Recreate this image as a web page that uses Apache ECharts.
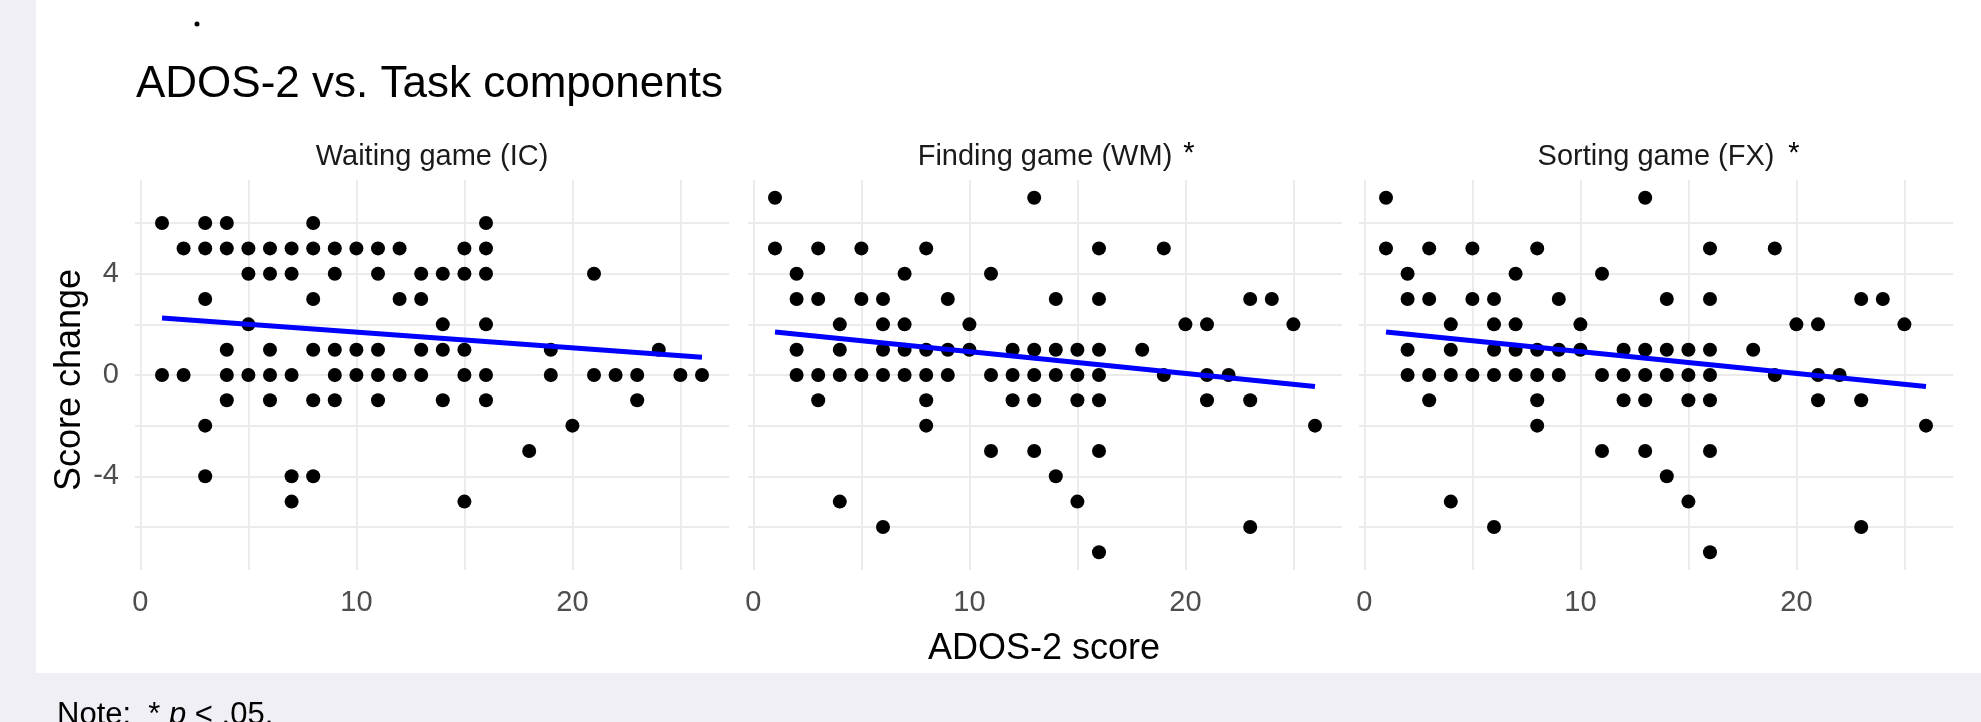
<!DOCTYPE html>
<html>
<head>
<meta charset="utf-8">
<script src="https://cdn.jsdelivr.net/npm/echarts@6/dist/echarts.min.js"></script>
<style>
  html, body { margin: 0; padding: 0; background: #f0eff6; }
  #paper { position: absolute; left: 36px; top: 0; width: 1945px; height: 673px; background: #ffffff; }
  #chart { position: absolute; left: 0; top: 0; width: 1981px; height: 722px; }
</style>
</head>
<body>
<div id="paper"></div>
<div id="chart"></div>
<script>
// ---------- data ----------
const chartTitle = 'ADOS-2 vs. Task components';
const panelTitles = ['Waiting game (IC)', 'Finding game (WM)', 'Sorting game (FX)'];
const panelStars = ['', '*', '*'];
const xAxisTitle = 'ADOS-2 score';
const yAxisTitle = 'Score change';
const xTickLabels = [0, 10, 20];
const xGridValues = [0, 5, 10, 15, 20, 25];
const yTickLabels = [-4, 0, 4];
const yGridValues = [-6, -4, -2, 0, 2, 4, 6];

// [ADOS-2 score, score change]
const waitingIC = [
  [1,6],[3,6],[4,6],[8,6],[16,6],
  [2,5],[3,5],[4,5],[5,5],[6,5],[7,5],[8,5],[9,5],[10,5],[11,5],[12,5],[15,5],[16,5],
  [5,4],[6,4],[7,4],[9,4],[11,4],[13,4],[14,4],[15,4],[16,4],[21,4],
  [3,3],[8,3],[12,3],[13,3],
  [5,2],[14,2],[16,2],
  [4,1],[6,1],[8,1],[9,1],[10,1],[11,1],[13,1],[14,1],[15,1],[19,1],[24,1],
  [1,0],[2,0],[4,0],[5,0],[6,0],[7,0],[9,0],[10,0],[11,0],[12,0],[13,0],[15,0],[16,0],[19,0],[21,0],[22,0],[23,0],[25,0],[26,0],
  [4,-1],[6,-1],[8,-1],[9,-1],[11,-1],[14,-1],[16,-1],[23,-1],
  [3,-2],[20,-2],
  [18,-3],
  [3,-4],[7,-4],[8,-4],
  [7,-5],[15,-5]
];
const findingWM = [
  [1,7],[13,7],
  [1,5],[3,5],[5,5],[8,5],[16,5],[19,5],
  [2,4],[7,4],[11,4],
  [2,3],[3,3],[5,3],[6,3],[9,3],[14,3],[16,3],[23,3],[24,3],
  [4,2],[6,2],[7,2],[10,2],[20,2],[21,2],[25,2],
  [2,1],[4,1],[6,1],[7,1],[8,1],[9,1],[10,1],[12,1],[13,1],[14,1],[15,1],[16,1],[18,1],
  [2,0],[3,0],[4,0],[5,0],[6,0],[7,0],[8,0],[9,0],[11,0],[12,0],[13,0],[14,0],[15,0],[16,0],[19,0],[21,0],[22,0],
  [3,-1],[8,-1],[12,-1],[13,-1],[15,-1],[16,-1],[21,-1],[23,-1],
  [8,-2],[26,-2],
  [11,-3],[13,-3],[16,-3],
  [14,-4],
  [4,-5],[15,-5],
  [6,-6],[23,-6],
  [16,-7]
];
const sortingFX = [
  [1,7],[13,7],
  [1,5],[3,5],[5,5],[8,5],[16,5],[19,5],
  [2,4],[7,4],[11,4],
  [2,3],[3,3],[5,3],[6,3],[9,3],[14,3],[16,3],[23,3],[24,3],
  [4,2],[6,2],[7,2],[10,2],[20,2],[21,2],[25,2],
  [2,1],[4,1],[6,1],[7,1],[8,1],[9,1],[10,1],[12,1],[13,1],[14,1],[15,1],[16,1],[18,1],
  [2,0],[3,0],[4,0],[5,0],[6,0],[7,0],[8,0],[9,0],[11,0],[12,0],[13,0],[14,0],[15,0],[16,0],[19,0],[21,0],[22,0],
  [3,-1],[8,-1],[12,-1],[13,-1],[15,-1],[16,-1],[21,-1],[23,-1],
  [8,-2],[26,-2],
  [11,-3],[13,-3],[16,-3],
  [14,-4],
  [4,-5],[15,-5],
  [6,-6],[23,-6],
  [16,-7]
];
// fitted regression line end points
const fitIC = [[1, 2.25], [26, 0.7]];
const fitWM = [[1, 1.7], [26, -0.45]];
const fitFX = [[1, 1.7], [26, -0.45]];

const panelPoints = [waitingIC, findingWM, sortingFX];
const panelFits = [fitIC, fitWM, fitFX];

// ---------- layout ----------
const FONT = '"Liberation Sans", Arial, Helvetica, sans-serif';
const gridLefts = [135, 748, 1359];
const gridW = 594, gridTop = 180, gridH = 390;
const starX = [0, 1189, 1794];

const grids = [], xAxes = [], yAxes = [], series = [], graphics = [];

gridLefts.forEach((left, i) => {
  grids.push({ left: left, top: gridTop, width: gridW, height: gridH, containLabel: false });
  xAxes.push({
    type: 'value', gridIndex: i, min: -0.25, max: 27.25,
    axisLine: { show: false },
    axisTick: { show: false, customValues: xGridValues },
    axisLabel: { customValues: xTickLabels, color: '#4d4d4d', fontSize: 29, fontFamily: FONT, margin: 18 },
    splitLine: { show: true, lineStyle: { color: '#ebebeb', width: 2 } }
  });
  yAxes.push({
    type: 'value', gridIndex: i, min: -7.7, max: 7.7,
    axisLine: { show: false },
    axisTick: { show: false, customValues: yGridValues },
    axisLabel: { show: i === 0, customValues: yTickLabels, color: '#4d4d4d', fontSize: 29, fontFamily: FONT, margin: 16 },
    splitLine: { show: true, lineStyle: { color: '#ebebeb', width: 2 } }
  });
  series.push({
    type: 'scatter', xAxisIndex: i, yAxisIndex: i,
    data: panelPoints[i], symbol: 'circle', symbolSize: 14,
    itemStyle: { color: '#000000', opacity: 1 }, z: 2
  });
  series.push({
    type: 'line', xAxisIndex: i, yAxisIndex: i,
    data: panelFits[i], showSymbol: false, symbol: 'none',
    lineStyle: { color: '#0000ff', width: 5 }, z: 3
  });
  graphics.push({
    type: 'text', x: left + gridW / 2, y: 157,
    style: { text: panelTitles[i], font: '29px ' + FONT, fill: '#1a1a1a', align: 'center', verticalAlign: 'middle' }
  });
  if (panelStars[i]) {
    graphics.push({
      type: 'text', x: starX[i], y: 154,
      style: { text: panelStars[i], font: '29px ' + FONT, fill: '#000000', align: 'center', verticalAlign: 'middle' }
    });
  }
});

graphics.push(
  { type: 'circle', shape: { cx: 197, cy: 24, r: 2.5 }, style: { fill: '#000000' } },
  { type: 'text', x: 136, y: 85,
    style: { text: chartTitle, font: '44px ' + FONT, fill: '#000000', align: 'left', verticalAlign: 'middle' } },
  { type: 'text', x: 1044, y: 649,
    style: { text: xAxisTitle, font: '36px ' + FONT, fill: '#000000', align: 'center', verticalAlign: 'middle' } },
  { type: 'text', x: 70, y: 380, rotation: Math.PI / 2,
    style: { text: yAxisTitle, font: '36px ' + FONT, fill: '#000000', align: 'center', verticalAlign: 'middle' } },
  { type: 'text', x: 57, y: 715,
    style: {
      text: '{a|Note:  * }{i|p}{a| < .05.}',
      verticalAlign: 'middle', align: 'left',
      rich: {
        a: { font: '31px ' + FONT, fill: '#000000' },
        i: { font: 'italic 31px ' + FONT, fill: '#000000' }
      }
    } }
);

const chart = echarts.init(document.getElementById('chart'), null, { renderer: 'canvas' });
chart.setOption({
  animation: false,
  backgroundColor: 'transparent',
  grid: grids,
  xAxis: xAxes,
  yAxis: yAxes,
  series: series,
  graphic: graphics
});
</script>
</body>
</html>
